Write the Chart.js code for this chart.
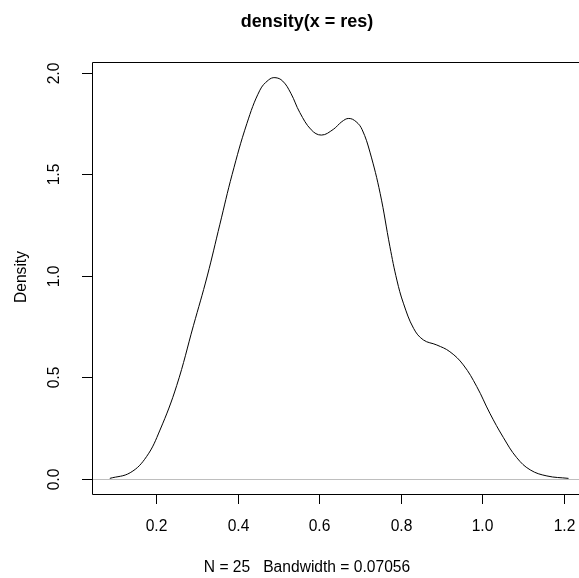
<!DOCTYPE html>
<html>
<head>
<meta charset="utf-8">
<script src="https://cdn.jsdelivr.net/npm/chart.js@4"></script>
<style>
  html, body { margin: 0; padding: 0; background: #fff; }
  #wrap { width: 579px; height: 578px; }
</style>
</head>
<body>
<div id="wrap"><canvas id="myChart"></canvas></div>
<script>
// density curve
const xs = [0.086, 0.136, 0.176, 0.209, 0.25, 0.291, 0.325, 0.356, 0.386, 0.422, 0.454, 0.475, 0.491, 0.51, 0.53, 0.552, 0.58, 0.605, 0.634, 0.655, 0.672, 0.69, 0.705, 0.724, 0.749, 0.773, 0.79, 0.806, 0.831, 0.855, 0.888, 0.92, 0.953, 0.986, 1.018, 1.051, 1.084, 1.117, 1.158, 1.211];
const dens = [0.003, 0.031, 0.11, 0.241, 0.46, 0.755, 1.0, 1.255, 1.5, 1.75, 1.915, 1.965, 1.977, 1.96, 1.9, 1.805, 1.72, 1.694, 1.722, 1.76, 1.776, 1.76, 1.72, 1.61, 1.407, 1.144, 0.98, 0.866, 0.742, 0.685, 0.66, 0.627, 0.562, 0.455, 0.324, 0.205, 0.105, 0.045, 0.015, 0.003];
const xTicks = [0.2, 0.4, 0.6, 0.8, 1.0, 1.2];
const yTicks = [0.0, 0.5, 1.0, 1.5, 2.0];
const mainTitle = 'density(x = res)';
const xTitle = 'N = 25   Bandwidth = 0.07056';
const yTitle = 'Density';

const FONT = '"Liberation Sans", Arial, Helvetica, sans-serif';

const rAxes = {
  id: 'rAxes',
  afterDraw(chart) {
    const ctx = chart.ctx;
    const a = chart.chartArea;
    const sx = chart.scales.x, sy = chart.scales.y;
    ctx.save();
    // zero line
    const y0 = Math.round(sy.getPixelForValue(0)) + 0.5;
    ctx.strokeStyle = '#bebebe';
    ctx.lineWidth = 1;
    ctx.beginPath();
    ctx.moveTo(a.left, y0); ctx.lineTo(a.right, y0);
    ctx.stroke();
    // box
    ctx.strokeStyle = '#000';
    ctx.beginPath();
    ctx.moveTo(a.left + 0.5, a.top + 0.5);
    ctx.lineTo(a.right + 2, a.top + 0.5);
    ctx.moveTo(a.left + 0.5, a.top + 0.5);
    ctx.lineTo(a.left + 0.5, a.bottom + 0.5);
    ctx.lineTo(a.right + 2, a.bottom + 0.5);
    ctx.stroke();
    // x ticks
    ctx.fillStyle = '#000';
    ctx.font = '15.6px ' + FONT;
    ctx.textAlign = 'center';
    ctx.textBaseline = 'middle';
    xTicks.forEach(v => {
      const px = Math.round(sx.getPixelForValue(v)) + 0.5;
      ctx.beginPath();
      ctx.moveTo(px, a.bottom); ctx.lineTo(px, a.bottom + 10);
      ctx.stroke();
      ctx.fillText(v.toFixed(1), px, 527);
    });
    // y ticks
    yTicks.forEach(v => {
      const py = Math.round(sy.getPixelForValue(v)) + 0.5;
      ctx.beginPath();
      ctx.moveTo(a.left, py); ctx.lineTo(a.left - 10, py);
      ctx.stroke();
      ctx.save();
      ctx.translate(55, py);
      ctx.rotate(-Math.PI / 2);
      ctx.fillText(v.toFixed(1), 0, 0);
      ctx.restore();
    });
    // titles
    ctx.fillText(xTitle, 307, 568);
    ctx.save();
    ctx.translate(22, 277);
    ctx.rotate(-Math.PI / 2);
    ctx.fillText(yTitle, 0, 0);
    ctx.restore();
    ctx.font = 'bold 18px ' + FONT;
    ctx.fillText(mainTitle, 307, 22);
    ctx.restore();
  }
};

new Chart(document.getElementById('myChart'), {
  type: 'scatter',
  data: {
    datasets: [{
      data: xs.map((x, i) => ({ x: x, y: dens[i] })),
      showLine: true,
      borderColor: '#000',
      borderWidth: 1,
      pointRadius: 0,
      tension: 0.4,
      fill: false
    }]
  },
  options: {
    responsive: true,
    maintainAspectRatio: false,
    animation: false,
    layout: { padding: { left: 92, top: 62, right: 0, bottom: 84 } },
    plugins: { legend: { display: false }, tooltip: { enabled: false } },
    scales: {
      x: { type: 'linear', display: false, min: 0.0423, max: 1.2367 },
      y: { type: 'linear', display: false, min: -0.0739, max: 2.054 }
    }
  },
  plugins: [rAxes]
});
</script>
</body>
</html>
